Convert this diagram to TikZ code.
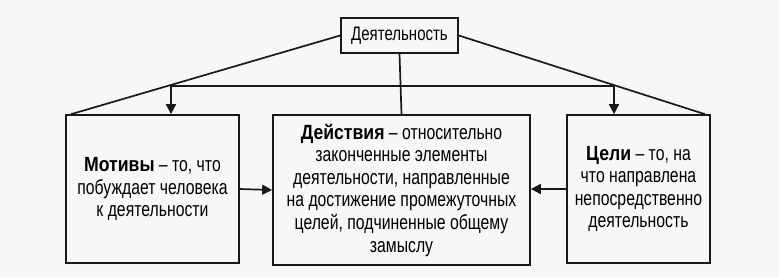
\documentclass[tikz,border=0pt]{standalone}
\usepackage{fontspec}
\setmainfont{Liberation Sans}[UprightFeatures={FakeStretch=0.77},BoldFeatures={FakeStretch=0.86}]
\usetikzlibrary{arrows.meta}
\tikzset{
  box/.style={draw=black!90, line width=1.7pt, rectangle, inner sep=0pt, align=center,
    font=\fontsize{20.5pt}{22.6pt}\selectfont},
  conn/.style={draw=black!90, line width=1.7pt},
  arr/.style={conn, -{Triangle[length=10pt,width=10pt]}}
}
\begin{document}
\begin{tikzpicture}[x=1pt,y=-1pt]
\useasboundingbox[fill=black!3] (0,0) rectangle (779,277);
\node[box, minimum width=117pt, minimum height=35pt, font=\fontsize{19.5pt}{22pt}\selectfont] (top) at (399.5,35.5) {Деятельность};
\node[box, minimum width=173pt, minimum height=148pt] (mot) at (152.5,189)
  {\textbf{Мотивы} – то, что\\побуждает человека\\к деятельности};
\node[box, minimum width=257pt, minimum height=150pt] (act) at (401.5,190)
  {\textbf{Действия} – относительно\\законченные элементы\\деятельности, направленные\\на достижение промежуточных\\целей, подчиненные общему\\замыслу};
\node[box, minimum width=143pt, minimum height=148pt] (goal) at (638.5,189)
  {\textbf{Цели} – то, на\\что направлена\\непосредственно\\деятельность};
\coordinate (hl) at (171,86);
\coordinate (hr) at (614,86);
\draw[conn] (top.west) -- ([xshift=6pt]mot.north west);
\draw[conn] (top.east) -- ([xshift=-6pt]goal.north east);
\draw[conn] (hl) -- (hr);
\draw[conn] (top.south) -- (act.north);
\draw[arr] (hl) -- (hl |- mot.north);
\draw[arr] (hr) -- (hr |- goal.north);
\draw[arr] (mot.east) -- (act.west);
\draw[arr] (goal.west) -- (goal.west -| act.east);
\end{tikzpicture}
\end{document}
